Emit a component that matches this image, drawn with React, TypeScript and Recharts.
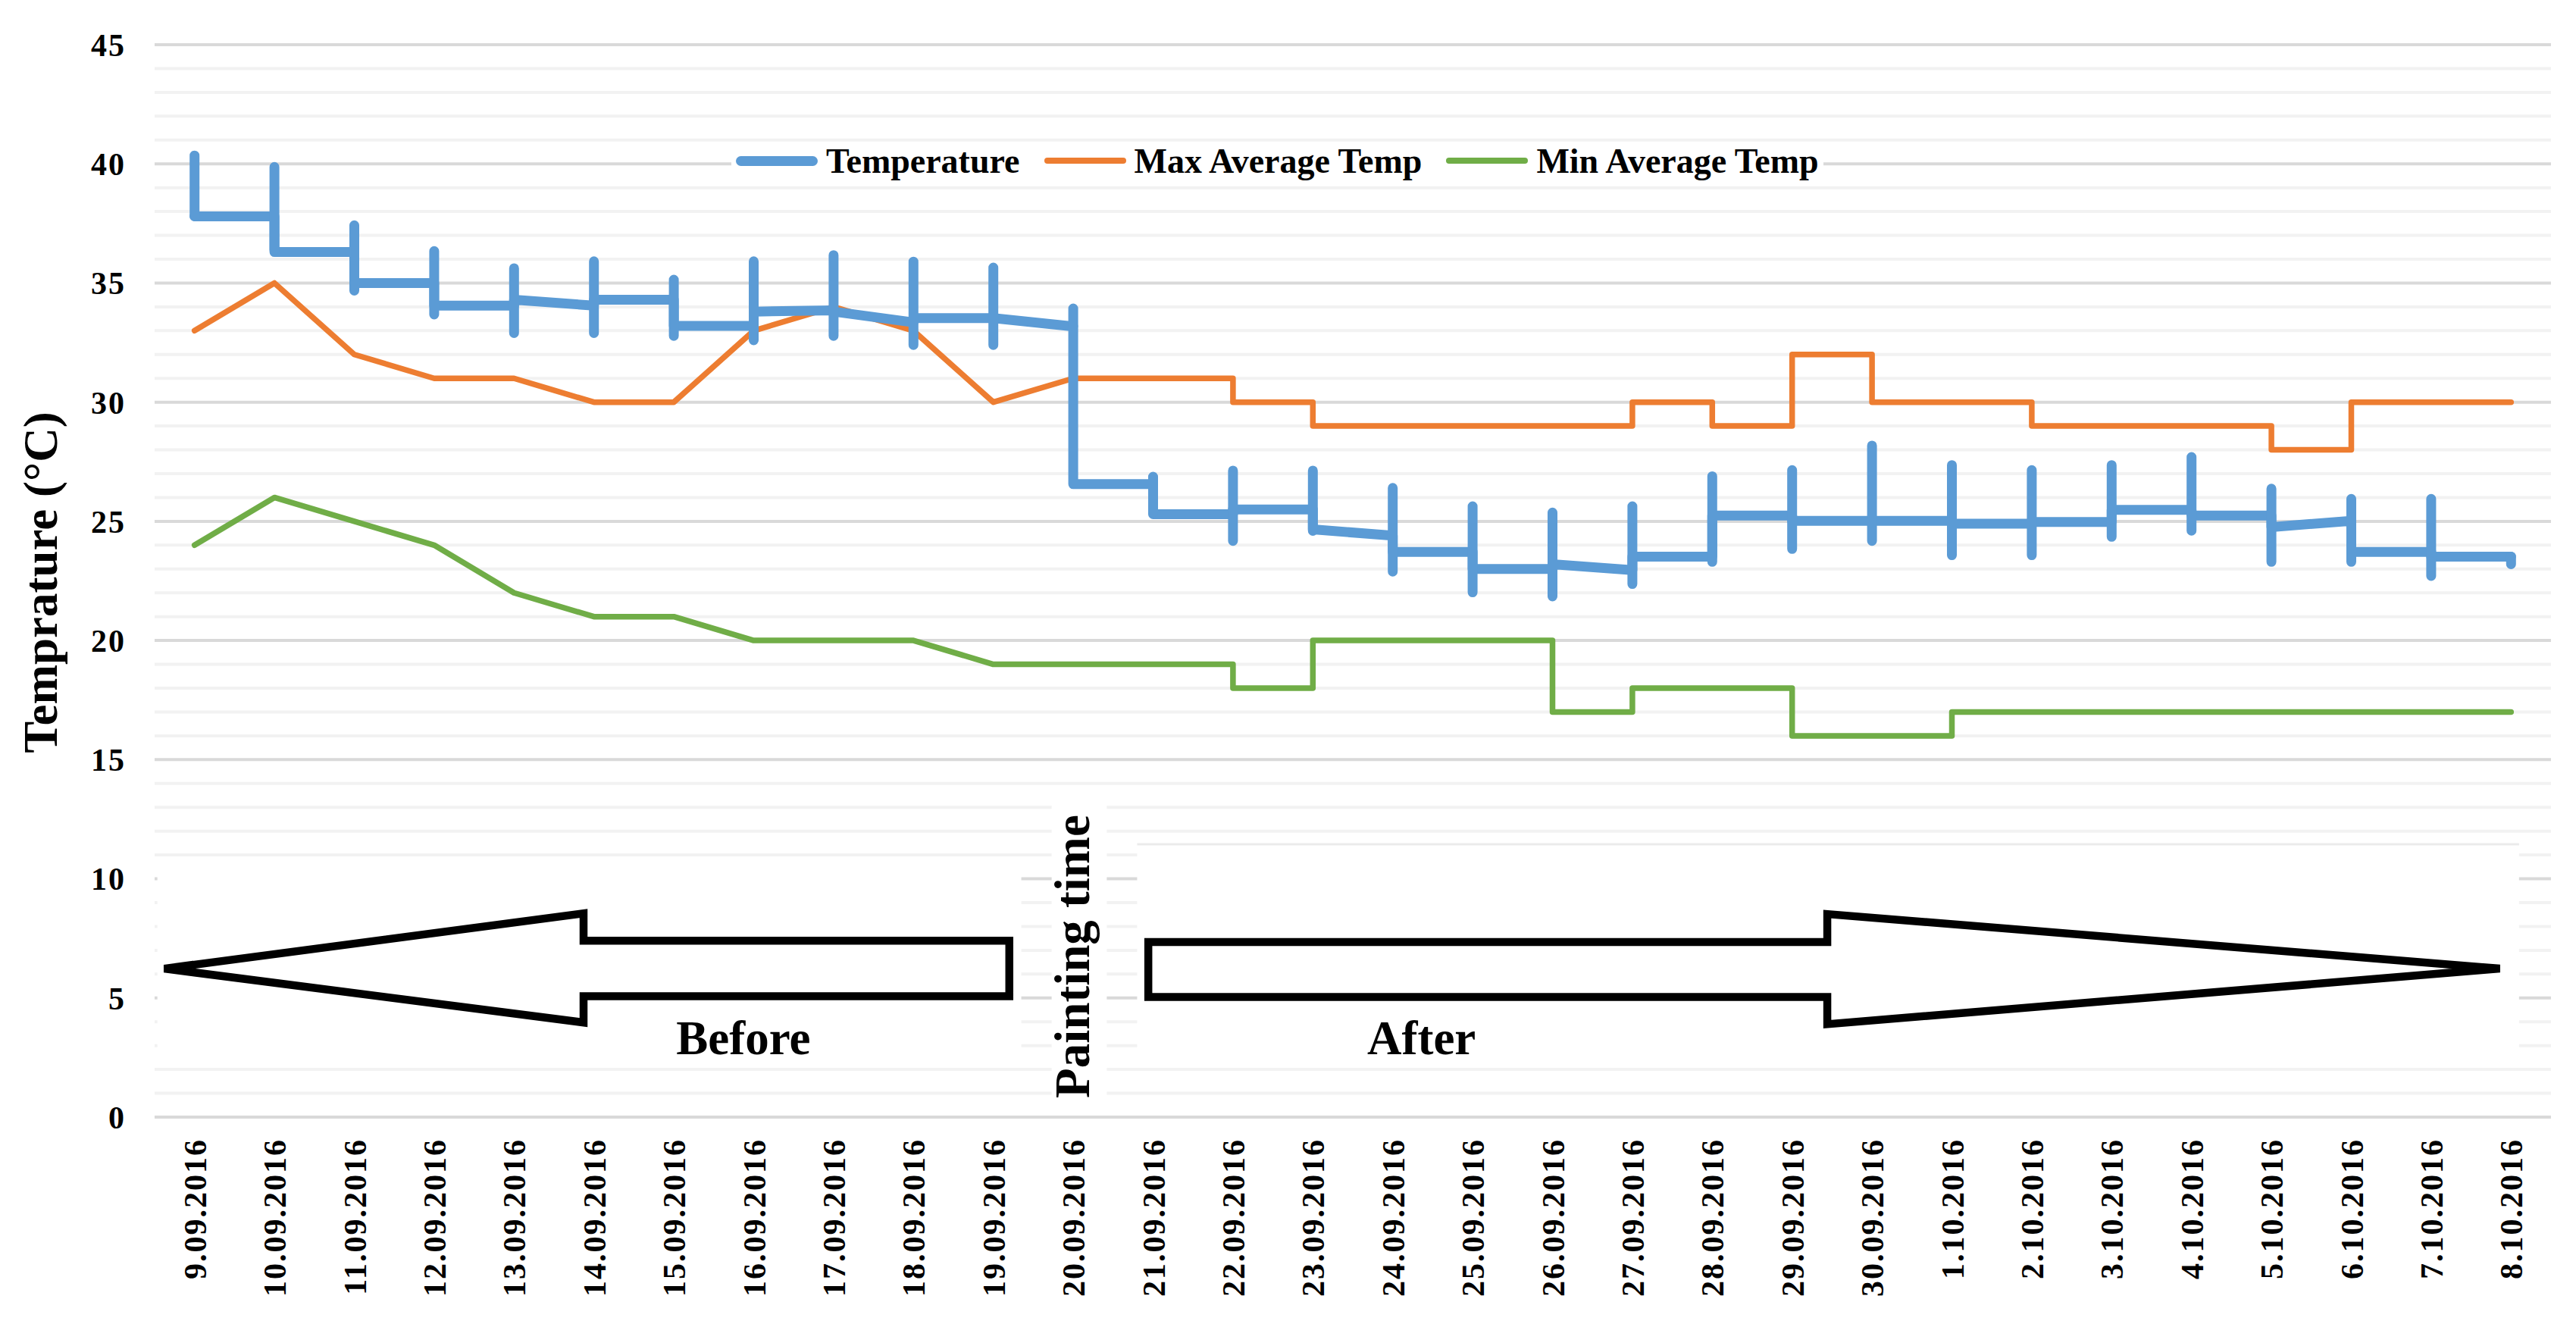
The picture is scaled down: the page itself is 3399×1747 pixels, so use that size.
import React from 'react';
import {
  ComposedChart,
  Line,
  XAxis,
  YAxis,
  CartesianGrid,
  ReferenceArea,
  ReferenceDot,
  ReferenceLine,
  Legend,
} from 'recharts';

// ---------- data ----------
const dates = [
  '9.09.2016', '10.09.2016', '11.09.2016', '12.09.2016', '13.09.2016', '14.09.2016',
  '15.09.2016', '16.09.2016', '17.09.2016', '18.09.2016', '19.09.2016', '20.09.2016',
  '21.09.2016', '22.09.2016', '23.09.2016', '24.09.2016', '25.09.2016', '26.09.2016',
  '27.09.2016', '28.09.2016', '29.09.2016', '30.09.2016', '1.10.2016', '2.10.2016',
  '3.10.2016', '4.10.2016', '5.10.2016', '6.10.2016', '7.10.2016', '8.10.2016',
];

// Temperature line: value arriving at each day and value leaving it
const tempArrive = [
  37.8, 37.8, 36.3, 35.0, 34.05, 34.05, 34.3, 33.2, 33.85, 33.35, 33.53, 33.18, 26.56, 25.3, 25.5,
  24.4, 23.72, 23.0, 22.95, 23.52, 25.24, 25.02, 25.02, 24.9, 24.97, 25.48, 25.24, 25.02, 23.72, 23.52,
];
const tempDepart = [
  37.8, 36.3, 35.0, 34.05, 34.3, 34.3, 33.2, 33.8, 33.8, 33.53, 33.53, 26.56, 25.3, 25.5, 24.66,
  23.72, 23.0, 23.2, 23.52, 25.24, 25.02, 25.02, 24.9, 24.97, 25.48, 25.24, 24.76, 23.72, 23.52, 23.52,
];
// Temperature range bars
const tempHigh = [
  40.35, 39.87, 37.42, 36.34, 35.62, 35.91, 35.14, 35.91, 36.17, 35.9, 35.65, 33.93, 26.87, 27.13, 27.13,
  26.4, 25.63, 25.37, 25.63, 26.89, 27.15, 28.18, 27.36, 27.15, 27.36, 27.7, 26.37, 25.94, 25.94, 23.52,
];
const tempLow = [
  37.8, 36.4, 34.68, 33.68, 32.9, 32.9, 32.78, 32.6, 32.78, 32.4, 32.4, 33.2, 25.38, 24.18, 24.6,
  22.89, 22.02, 21.85, 22.37, 23.3, 23.84, 24.18, 23.58, 23.58, 24.35, 24.61, 23.3, 23.3, 22.71, 23.2,
];
const maxAvgTemp = [
  33, 35, 32, 31, 31, 30, 30, 33, 34, 33, 30, 31, 31, 30, 29,
  29, 29, 29, 30, 29, 32, 30, 30, 29, 29, 29, 28, 30, 30, 30,
];
const minAvgTemp = [
  24, 26, 25, 24, 22, 21, 21, 20, 20, 20, 19, 19, 19, 18, 20,
  20, 20, 17, 18, 18, 16, 16, 17, 17, 17, 17, 17, 17, 17, 17,
];
// from this day on, the average lines are drawn as steps
const STEP_FROM = 12;

const yTicks = [0, 5, 10, 15, 20, 25, 30, 35, 40, 45];
const minorValues = Array.from({ length: 46 }, (_, i) => i).filter((v) => v % 5 !== 0);

// annotation shapes (in chart data units: day index, °C)
const beforeArrow = [
  [10.2, 7.4], [4.87, 7.4], [4.87, 8.55], [-0.38, 6.23], [4.87, 3.97], [4.87, 5.07], [10.2, 5.07], [10.2, 7.4],
];
const afterArrow = [
  [11.94, 7.35], [20.44, 7.35], [20.44, 8.52], [28.86, 6.23], [20.44, 3.9], [20.44, 5.04], [11.94, 5.04], [11.94, 7.35],
];

// ---------- derived series ----------
const dayIndex = dates.map((_, i) => i);
const tempPoints = tempDepart.flatMap((d, i) =>
  i === 0 ? [{ x: i, y: d }] : [{ x: i, y: tempArrive[i] }, { x: i, y: d }]
);
const tempBars = tempHigh.flatMap((h, i) => [
  { x: i, y: tempLow[i] },
  { x: i, y: h },
  { x: i + 0.5, y: null },
]);
const stepped = (vals: number[]) =>
  vals.flatMap((v, i) =>
    i >= STEP_FROM ? [{ x: i, y: vals[i - 1] }, { x: i, y: v }] : [{ x: i, y: v }]
  );
const maxPoints = stepped(maxAvgTemp);
const minPoints = stepped(minAvgTemp);
const toPts = (arr: number[][]) => arr.map(([x, y]) => ({ x, y }));

// ---------- styles ----------
const FONT = "'Liberation Serif', 'Times New Roman', serif";
const BLUE = '#5b9bd5';
const ORANGE = '#ed7d31';
const GREEN = '#70ad47';

const legendItems = [
  { name: 'Temperature', color: BLUE, thick: 13 },
  { name: 'Max Average Temp', color: ORANGE, thick: 8 },
  { name: 'Min Average Temp', color: GREEN, thick: 8 },
];

const gridGen = (values: number[]) => (props: any) => {
  const yAxis = props?.yAxis;
  const off = props?.offset;
  return values.map((v) => {
    const s = yAxis && yAxis.scale;
    if (typeof s === 'function') return s(v);
    const top = off?.top ?? 59;
    const h = off?.height ?? 1415;
    return top + ((45 - v) / 45) * h;
  });
};

const DateTick = (props: any) => {
  const { x, y, payload } = props;
  return (
    <g transform={`translate(${x},${y})`}>
      <text
        transform="rotate(-90)"
        x={-28}
        y={0}
        dy="0.36em"
        textAnchor="end"
        fontFamily={FONT}
        fontWeight={700}
        fontSize={42}
        letterSpacing={2}
        fill="#000"
      >
        {dates[payload.value]}
      </text>
    </g>
  );
};

const YTitle = (props: any) => {
  const vb = props?.viewBox || { x: 74, y: 59, width: 130, height: 1415 };
  const cx = vb.x + 1;
  const cy = vb.y + vb.height / 2 + 2;
  return (
    <text
      transform={`translate(${cx},${cy}) rotate(-90)`}
      textAnchor="middle"
      fontFamily={FONT}
      fontWeight={700}
      fontSize={63}
      fill="#000"
    >
      Temprature (°C)
    </text>
  );
};

const LegendContent = () => (
  <div
    style={{
      display: 'flex',
      alignItems: 'center',
      background: '#fff',
      height: 50,
      padding: '0 6px',
      fontFamily: FONT,
      fontWeight: 700,
      fontSize: 46,
      color: '#000',
      whiteSpace: 'nowrap',
    }}
  >
    {legendItems.map((it, i) => (
      <div key={it.name} style={{ display: 'flex', alignItems: 'center', marginLeft: i === 0 ? 0 : 32 }}>
        <span
          style={{
            display: 'inline-block',
            width: 108,
            height: it.thick,
            borderRadius: it.thick / 2,
            background: it.color,
            marginRight: 11,
          }}
        />
        <span>{it.name}</span>
      </div>
    ))}
  </div>
);

const textShape = (label: string, size: number, rotate: boolean) => (p: any) =>
  rotate ? (
    <text
      transform={`translate(${p.cx},${p.cy}) rotate(-90)`}
      textAnchor="middle"
      fontFamily={FONT}
      fontWeight={700}
      fontSize={size}
      fill="#000"
    >
      {label}
    </text>
  ) : (
    <text x={p.cx} y={p.cy} textAnchor="middle" fontFamily={FONT} fontWeight={700} fontSize={size} fill="#000">
      {label}
    </text>
  );

export default function App() {
  return (
    <div
      style={{
        position: 'absolute',
        left: 0,
        top: 0,
        width: 3399,
        height: 1747,
        background: '#fff',
        fontFamily: FONT,
      }}
    >
      <ComposedChart width={3399} height={1747} margin={{ top: 59, right: 33, bottom: 43, left: 74 }}>
        <CartesianGrid
          vertical={false}
          stroke="#f2f2f2"
          strokeWidth={4}
          horizontalCoordinatesGenerator={gridGen(minorValues)}
        />
        <CartesianGrid
          vertical={false}
          stroke="#d9d9d9"
          strokeWidth={4}
          horizontalCoordinatesGenerator={gridGen(yTicks)}
        />
        <XAxis
          dataKey="x"
          type="number"
          domain={[-0.5, 29.5]}
          ticks={dayIndex}
          interval={0}
          allowDataOverflow
          axisLine={false}
          tickLine={false}
          tickSize={0}
          tickMargin={0}
          height={230}
          tick={<DateTick />}
        />
        <YAxis
          type="number"
          domain={[0, 45]}
          ticks={yTicks}
          interval={0}
          allowDataOverflow
          axisLine={false}
          tickLine={false}
          tickSize={0}
          tickMargin={38}
          width={130}
          tick={{ fill: '#000', fontSize: 42, fontWeight: 700, fontFamily: FONT, letterSpacing: 2 }}
          label={{ content: (p: any) => <YTitle {...p} /> }}
        />
        <Legend
          layout="horizontal"
          verticalAlign="middle"
          align="center"
          content={<LegendContent />}
          wrapperStyle={{ position: 'absolute', left: 965, top: 187, width: 'auto', height: 50 }}
        />

        {/* white text boxes of the annotations */}
        <ReferenceArea x1={-0.465} x2={10.35} y1={2.35} y2={10.6} fill="#fff" fillOpacity={1} stroke="none" />
        <ReferenceArea x1={10.73} x2={11.42} y1={0.45} y2={13.5} fill="#fff" fillOpacity={1} stroke="none" />
        <ReferenceArea x1={11.8} x2={29.1} y1={2.19} y2={11.45} fill="#fff" fillOpacity={1} stroke="none" />
        <ReferenceLine
          segment={[
            { x: 11.8, y: 11.45 },
            { x: 29.1, y: 11.45 },
          ]}
          stroke="#ebebeb"
          strokeWidth={3}
        />

        <Line
          data={minPoints}
          dataKey="y"
          name="Min Average Temp"
          stroke={GREEN}
          strokeWidth={7.5}
          strokeLinejoin="round"
          strokeLinecap="round"
          dot={false}
          activeDot={false}
          isAnimationActive={false}
        />
        <Line
          data={maxPoints}
          dataKey="y"
          name="Max Average Temp"
          stroke={ORANGE}
          strokeWidth={7.5}
          strokeLinejoin="round"
          strokeLinecap="round"
          dot={false}
          activeDot={false}
          isAnimationActive={false}
        />
        <Line
          data={tempPoints}
          dataKey="y"
          name="Temperature"
          stroke={BLUE}
          strokeWidth={13}
          strokeLinejoin="round"
          strokeLinecap="round"
          dot={false}
          activeDot={false}
          isAnimationActive={false}
        />
        <Line
          data={tempBars}
          dataKey="y"
          name="Temperature range"
          legendType="none"
          stroke={BLUE}
          strokeWidth={13}
          strokeLinecap="round"
          connectNulls={false}
          dot={false}
          activeDot={false}
          isAnimationActive={false}
        />

        {/* annotation arrows */}
        <Line
          data={toPts(beforeArrow)}
          dataKey="y"
          name="before-arrow"
          legendType="none"
          stroke="#000"
          strokeWidth={10.5}
          strokeLinejoin="miter"
          strokeLinecap="square"
          dot={false}
          activeDot={false}
          isAnimationActive={false}
        />
        <Line
          data={toPts(afterArrow)}
          dataKey="y"
          name="after-arrow"
          legendType="none"
          stroke="#000"
          strokeWidth={10.5}
          strokeLinejoin="miter"
          strokeLinecap="square"
          dot={false}
          activeDot={false}
          isAnimationActive={false}
        />

        <ReferenceDot x={6.87} y={2.63} r={1} shape={textShape('Before', 63, false)} />
        <ReferenceDot x={15.36} y={2.63} r={1} shape={textShape('After', 63, false)} />
        <ReferenceDot x={11.195} y={6.74} r={1} shape={textShape('Painting time', 65, true)} />
      </ComposedChart>
    </div>
  );
}
